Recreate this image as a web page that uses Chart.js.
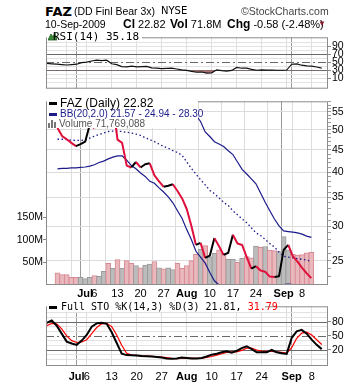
<!DOCTYPE html>
<html>
<head>
<meta charset="utf-8">
<script src="https://cdn.jsdelivr.net/npm/chart.js@4.4.0/dist/chart.umd.min.js"></script>
<style>
  body { margin: 0; background: #fff; }
  #wrap { position: relative; width: 360px; height: 384px; overflow: hidden; font-family: "Liberation Sans", Arial, sans-serif; color: #000; }
  .t { position: absolute; white-space: nowrap; line-height: 1; }
  canvas { position: absolute; left: 0; }
  .mono { font-family: "DejaVu Sans Mono", monospace; }
</style>
</head>
<body>
<div id="wrap">
  <canvas id="rsiChart" width="360" height="66" style="top:30px"></canvas>
  <canvas id="priceChart" width="360" height="206" style="top:94px"></canvas>
  <canvas id="stoChart" width="360" height="85" style="top:299px"></canvas>

  <!-- header -->
  <div class="t" style="left:45px;top:4px;font:bold 13px 'DejaVu Sans';">FAZ</div>
  <div class="t" style="left:74px;top:6px;font-size:10.5px;">(DD Finl Bear 3x)</div>
  <div class="t" style="left:161px;top:6px;font-size:10px;font-family:'DejaVu Sans';">NYSE</div>
  <div class="t" style="left:241px;top:6px;font-size:10.5px;color:#444;">&copy;StockCharts.com</div>
  <div class="t" style="left:45px;top:19px;font-size:10.5px;">10-Sep-2009</div>
  <div class="t" style="left:123px;top:18px;font-size:11px;"><b style="font-size:12px">Cl</b> 22.82</div>
  <div class="t" style="left:170px;top:18px;font-size:11px;"><b style="font-size:12px">Vol</b> 71.8M</div>
  <div class="t" style="left:227px;top:18px;font-size:11px;"><b style="font-size:12px">Chg</b> -0.58 (-2.48%)</div>
  <div class="t" style="left:318px;top:20px;font-size:8px;color:#8b1a2a;">&#9660;</div>

  <!-- RSI label -->
  <div class="t" style="left:47px;top:32px;width:95px;height:9px;background:#fff;"></div>
  <svg class="t" style="left:48px;top:32px" width="9" height="9"><polygon points="0,8 3,2 5,5 7,1 9,8" fill="#3a8a3a" stroke="#1d5d1d" stroke-width="0.8"/></svg>
  <div class="t mono" style="left:53px;top:31px;font-size:11px;">RSI(14) 35.18</div>

  <!-- price legend -->
  <div class="t" style="left:47px;top:98px;width:151px;height:30px;background:#fff;"></div>
  <div class="t" style="left:49px;top:102px;width:8px;height:3px;background:#000;"></div>
  <div class="t" style="left:60px;top:97px;font-size:12px;">FAZ (Daily) 22.82</div>
  <div class="t" style="left:49px;top:113px;width:8px;height:3px;background:#1b1b8a;"></div>
  <div class="t" style="left:60px;top:108.5px;font-size:10px;color:#1b1b8a;">BB(20,2.0) 21.57 - 24.94 - 28.30</div>
  <svg class="t" style="left:48px;top:119px" width="10" height="9"><rect x="0" y="4" width="2" height="5" fill="#777"/><rect x="3" y="1" width="2" height="8" fill="#777"/><rect x="6" y="3" width="2" height="6" fill="#777"/></svg>
  <div class="t" style="left:59px;top:118.5px;font-size:10px;color:#555;">Volume 71,769,088</div>

  <!-- STO label -->
  <div class="t" style="left:47px;top:302px;width:218px;height:10px;background:#fff;"></div>
  <div class="t" style="left:49px;top:306px;width:8px;height:3px;background:#000;"></div>
  <div class="t mono" style="left:61px;top:302px;font-size:10px;">Full STO %K(14,3) %D(3) 21.81, <span style="color:#f00">31.79</span></div>
</div>

<script>
// trading days shown (Jun 23 .. Sep 10, 2009)
const dates = [
  "Jun 23", "Jun 24", "Jun 25", "Jun 26", "Jun 29", "Jun 30", "Jul 1", "Jul 2",
  "Jul 6", "Jul 7", "Jul 8", "Jul 9", "Jul 10", "Jul 13", "Jul 14", "Jul 15",
  "Jul 16", "Jul 17", "Jul 20", "Jul 21", "Jul 22", "Jul 23", "Jul 24", "Jul 27",
  "Jul 28", "Jul 29", "Jul 30", "Jul 31", "Aug 3", "Aug 4", "Aug 5", "Aug 6",
  "Aug 7", "Aug 10", "Aug 11", "Aug 12", "Aug 13", "Aug 14", "Aug 17", "Aug 18",
  "Aug 19", "Aug 20", "Aug 21", "Aug 24", "Aug 25", "Aug 26", "Aug 27", "Aug 28",
  "Aug 31", "Sep 1", "Sep 2", "Sep 3", "Sep 4", "Sep 8", "Sep 9", "Sep 10",
];

const closes = [
  50.5, 48.4, 47.6, 46.7, 45.9, 46.4, 47.0, 51.5,
  50.5, 55.0, 58.5, 56.5, 57.5, 47.5, 46.7, 41.4,
  41.0, 42.2, 41.0, 41.7, 41.9, 39.3, 38.1, 37.0,
  37.2, 37.5, 36.2, 34.8, 32.9, 30.1, 27.2, 27.5,
  25.4, 25.7, 28.2, 27.0, 25.8, 26.1, 28.7, 27.4,
  27.2, 25.5, 24.0, 24.3, 23.75, 23.6, 23.0, 22.95,
  23.05, 26.5, 27.2, 25.6, 24.9, 24.1, 23.4, 22.82,
];

// volume in millions, and 1 where the bar is drawn as a down bar
const volume = [
  27, 23, 23, 17, 17, 17, 14, 17,
  21, 19, 30, 48, 37, 56, 37, 54,
  48, 43, 38, 44, 46, 52, 38, 36,
  38, 34, 48, 37, 43, 54, 68, 79,
  87, 62, 70, 78, 70, 57, 57, 50,
  59, 63, 60, 86, 83, 85, 77, 76,
  74, 107, 78, 68, 66, 67, 71, 72,
];
const volDown = [
  1, 1, 1, 1, 1, 0, 0, 0,
  1, 0, 0, 1, 0, 1, 0, 1,
  1, 0, 1, 0, 0, 1, 0, 1,
  0, 0, 1, 1, 1, 1, 1, 0,
  1, 0, 0, 1, 1, 0, 0, 1,
  0, 1, 1, 0, 1, 0, 1, 1,
  0, 0, 0, 1, 1, 1, 1, 1,
];

const bbUpper = [
  54.0, 53.8, 53.6, 53.4, 53.2, 53.0, 52.8, 53.5,
  54.5, 55.5, 56.5, 57.0, 57.4, 57.6, 57.7, 57.8,
  57.9, 58.0, 57.95, 57.9, 57.85, 57.8, 57.8, 57.8,
  57.75, 57.7, 57.7, 57.6, 57.3, 56.2, 54.0, 52.3,
  49.5, 48.3, 47.0, 46.4, 45.8, 44.8, 43.9, 42.2,
  40.6, 39.6, 38.6, 37.6, 35.8, 34.1, 32.6, 31.2,
  30.1, 29.3, 29.2, 29.1, 29.0, 28.8, 28.5, 28.3,
];
const bbMiddle = [
  47.6, 47.6, 47.5, 47.4, 47.3, 47.3, 47.4, 47.9,
  48.4, 48.8, 49.2, 49.6, 49.7, 49.7, 49.6, 49.4,
  49.2, 48.9, 48.6, 48.0, 47.5, 47.0, 46.4, 45.8,
  45.4, 44.8, 44.4, 43.7, 42.2, 40.8, 39.6, 38.4,
  37.4, 36.3, 35.7, 34.9, 34.1, 33.5, 32.6, 31.9,
  31.2, 30.6, 29.8, 29.0, 28.6, 28.0, 27.4, 26.9,
  26.2, 25.6, 25.5, 25.4, 25.3, 25.2, 25.1, 24.94,
];
const bbLower = [
  40.7, 40.8, 40.8, 40.9, 40.9, 41.0, 41.1, 41.3,
  41.6, 42.1, 42.4, 42.9, 43.3, 43.6, 43.6, 42.6,
  41.4, 40.7, 39.8, 39.1, 38.1, 37.7, 36.8, 36.0,
  35.1, 34.0, 32.6, 31.3, 29.5, 28.0, 26.3, 25.5,
  24.7, 23.5, 22.5, 22.0, 21.6, 21.2, 20.9, 20.6,
  20.5, 20.4, 20.4, 20.5, 20.7, 20.9, 21.2, 21.5,
  21.8, 22.05, 22.1, 22.05, 21.95, 21.8, 21.7, 21.57,
];

const rsi = [
  47, 46, 45, 44, 43, 44, 45, 49,
  50, 53, 55, 54, 55, 46, 44, 39,
  38.5, 40, 38.5, 39, 39.5, 36, 35, 34,
  34.5, 35, 33, 31, 29.5, 27, 25, 25.5,
  23, 23.5, 31, 29, 28, 29.5, 37, 35,
  35, 32, 30, 31, 30.5, 30.5, 30, 30,
  30.5, 45, 46, 42.5, 41, 40, 38, 35.18,
];

const stoK = [
  78, 83, 72, 55, 38, 34, 31, 40,
  52, 70, 77, 78, 76, 58, 35, 12,
  9, 8.5, 8, 7, 6.5, 6, 5, 4,
  2, 1, 2, 4, 3, 2, 2, 3,
  6, 10, 12, 15, 17, 14, 18, 24,
  28, 22, 15, 15, 15, 20, 15, 13,
  11.6, 46, 60, 63, 55, 42, 31, 21.81,
];
const stoD = [
  72, 77, 76, 65, 50, 40, 36, 37,
  42, 55, 68, 76, 77, 70, 52, 30,
  13, 9, 8.5, 7.5, 7, 6.5, 6, 5,
  3.5, 2, 1.5, 2.5, 3, 2.5, 2, 2.5,
  4, 6, 9, 12, 15, 16, 16, 19,
  24, 24, 20, 17.5, 17, 17, 16, 15,
  13.5, 25, 45, 56, 58, 52, 42, 31.79,
];

// axis labels
const axisDates = ["Jul 1", "Jul 6", "Jul 13", "Jul 20", "Jul 27", "Aug 3", "Aug 10", "Aug 17", "Aug 24", "Sep 1", "Sep 8"];
const axisText = ["Jul", "6", "13", "20", "27", "Aug", "10", "17", "24", "Sep", "8"];
const monthNames = ["Jul", "Aug", "Sep"];
const weekDates = ["Jun 29", "Jul 6", "Jul 13", "Jul 20", "Jul 27", "Aug 3", "Aug 10", "Aug 17", "Aug 24", "Aug 31", "Sep 8"];
const monthDates = ["Jul 1", "Sep 1"];
const priceTicks = [25, 30, 35, 40, 45, 50, 55];
const volTicks = [50, 100, 150];
const rsiTicks = [10, 30, 50, 70, 90];
const stoTicks = [20, 50, 80];

Chart.defaults.animation = false;
Chart.defaults.responsive = false;
Chart.defaults.plugins.legend.display = false;
Chart.defaults.plugins.tooltip.enabled = false;

const pos = (d) => dates.indexOf(d);
const labelAt = {};
axisDates.forEach((d, k) => (labelAt[pos(d)] = axisText[k]));
const monthPos = monthDates.map(pos);
const xTickPos = [...new Set([...weekDates.map(pos), ...monthPos, ...axisDates.map(pos)])].sort((a, b) => a - b);
const pts = (arr) => arr.map((v, i) => ({ x: i, y: v }));
const axisFont = { family: "Liberation Sans", size: 10.5 };

// frame + level lines drawn with the chart's own y scale
const panelFrame = {
  id: "panelFrame",
  beforeDatasetsDraw(chart, args, opts) {
    if (!opts.solid) return;
    const { ctx, chartArea: a } = chart;
    const y = chart.scales.y;
    ctx.save();
    ctx.strokeStyle = "#6a6a6a";
    ctx.lineWidth = 1;
    opts.solid.forEach((v) => {
      const py = Math.round(y.getPixelForValue(v)) + 0.5;
      ctx.beginPath(); ctx.moveTo(a.left, py); ctx.lineTo(a.right, py); ctx.stroke();
    });
    ctx.setLineDash([8, 3, 2, 3]);
    opts.dashDot.forEach((v) => {
      const py = Math.round(y.getPixelForValue(v)) + 0.5;
      ctx.beginPath(); ctx.moveTo(a.left, py); ctx.lineTo(a.right, py); ctx.stroke();
    });
    ctx.restore();
  },
  afterDraw(chart) {
    const { ctx, chartArea: a } = chart;
    ctx.save();
    ctx.strokeStyle = "#8c8c8c";
    ctx.lineWidth = 1;
    ctx.strokeRect(a.left + 0.5, a.top + 0.5, a.right - a.left - 1, a.bottom - a.top - 1);
    ctx.restore();
  },
};

function dateAxis(showLabels, height, pad) {
  return {
    type: "linear",
    position: "bottom",
    min: -0.14,
    max: 56.26,
    afterBuildTicks: (s) => { s.ticks = xTickPos.map((v) => ({ value: v })); },
    afterFit: (s) => { s.height = height; },
    border: { display: false },
    grid: {
      drawTicks: false,
      color: (c) => (c.tick && monthPos.includes(c.tick.value) ? "#9a9a9a" : "#dedede"),
    },
    ticks: {
      display: showLabels,
      autoSkip: false,
      maxRotation: 0,
      padding: pad,
      color: "#000",
      font: (c) => ({
        family: "Liberation Sans",
        size: 11,
        weight: c.tick && monthNames.includes(labelAt[c.tick.value]) ? "bold" : "normal",
      }),
      callback: (v) => labelAt[v] || "",
    },
  };
}

function oscAxis(min, max, labels, dark) {
  const grid = [];
  for (let v = 0; v <= 100; v += 10) grid.push(v);
  return {
    position: "right",
    min: min,
    max: max,
    afterBuildTicks: (s) => { s.ticks = grid.map((v) => ({ value: v })); },
    afterFit: (s) => { s.width = 32; },
    border: { display: false },
    grid: {
      tickLength: 3,
      color: (c) => (dark.includes(c.tick.value) || c.tick.value === 50 ? "rgba(0,0,0,0)" : "#e2e2e2"),
      tickColor: (c) => (labels.includes(c.tick.value) ? "#888" : "rgba(0,0,0,0)"),
    },
    ticks: {
      autoSkip: false,
      padding: 1,
      color: "#000",
      font: axisFont,
      callback: (v) => (labels.includes(v) ? String(v) : ""),
    },
  };
}

// RSI panel
new Chart(document.getElementById("rsiChart"), {
  type: "line",
  data: {
    datasets: [{
      data: pts(rsi),
      borderColor: "#111",
      borderWidth: 1.2,
      pointRadius: 0,
      fill: { target: { value: 30 }, above: "rgba(0,0,0,0)", below: "#a9706f" },
    }],
  },
  options: {
    layout: { padding: { left: 46, top: 1, bottom: 1 } },
    scales: { x: dateAxis(false, 0, 0), y: oscAxis(-16, 112, rsiTicks, [30, 70]) },
    plugins: { panelFrame: { solid: [30, 70], dashDot: [50] } },
  },
  plugins: [panelFrame],
});

// price + bollinger + volume panel
const upColor = "#000000";
const downColor = "#e0103c";
const bbColor = "#1b1b8a";
new Chart(document.getElementById("priceChart"), {
  data: {
    datasets: [
      {
        type: "line",
        data: pts(closes),
        yAxisID: "y",
        borderWidth: 2,
        pointRadius: 0,
        borderJoinStyle: "round",
        segment: { borderColor: (c) => (c.p1.parsed.y < c.p0.parsed.y ? downColor : upColor) },
        order: 1,
      },
      { type: "line", data: pts(bbUpper), yAxisID: "y", borderColor: bbColor, borderWidth: 1.2, pointRadius: 0, order: 2 },
      { type: "line", data: pts(bbMiddle), yAxisID: "y", borderColor: bbColor, borderWidth: 1.3, borderDash: [1.5, 2.5], pointRadius: 0, order: 2 },
      { type: "line", data: pts(bbLower), yAxisID: "y", borderColor: bbColor, borderWidth: 1.2, pointRadius: 0, order: 2 },
      {
        type: "bar",
        data: pts(volume),
        yAxisID: "vol",
        barThickness: 5,
        grouped: false,
        borderWidth: 1,
        backgroundColor: volDown.map((d) => (d ? "#e8b8bd" : "#bcbcbc")),
        borderColor: volDown.map((d) => (d ? "#d88892" : "#9a9a9a")),
        order: 5,
      },
    ],
  },
  options: {
    layout: { padding: { top: 1 } },
    scales: {
      x: dateAxis(true, 15, 2),
      y: {
        type: "logarithmic",
        position: "right",
        min: 22.0,
        max: 58.2,
        afterBuildTicks: (s) => {
          const t = [];
          for (let v = 23; v <= 58; v++) t.push({ value: v });
          s.ticks = t;
        },
        afterFit: (s) => { s.width = 32; },
        border: { display: false },
        grid: {
          tickLength: 3,
          color: (c) => (priceTicks.includes(c.tick.value) ? "#dcdcdc" : "rgba(0,0,0,0)"),
          tickColor: "#9a9a9a",
        },
        ticks: {
          autoSkip: false,
          padding: 1,
          color: "#000",
          font: axisFont,
          callback: (v) => (priceTicks.includes(v) ? String(v) : ""),
        },
      },
      vol: {
        type: "linear",
        position: "left",
        min: 0,
        max: 406,
        afterBuildTicks: (s) => { s.ticks = volTicks.map((v) => ({ value: v })); },
        afterFit: (s) => { s.width = 46; },
        border: { display: false },
        grid: { drawOnChartArea: false, tickLength: 3, tickColor: "#888" },
        ticks: { padding: 0, color: "#000", font: axisFont, callback: (v) => v + "M" },
      },
    },
  },
  plugins: [panelFrame],
});

// full stochastics panel
new Chart(document.getElementById("stoChart"), {
  type: "line",
  data: {
    datasets: [
      { data: pts(stoK), borderColor: "#000", borderWidth: 2, pointRadius: 0 },
      { data: pts(stoD), borderColor: "#ff0000", borderWidth: 1.2, pointRadius: 0 },
    ],
  },
  options: {
    layout: { padding: { left: 46, top: 1 } },
    scales: { x: dateAxis(true, 18, 4), y: oscAxis(-14.3, 113.5, stoTicks, [20, 80]) },
    plugins: { panelFrame: { solid: [20, 80], dashDot: [50] } },
  },
  plugins: [panelFrame],
});
</script>
</body>
</html>
